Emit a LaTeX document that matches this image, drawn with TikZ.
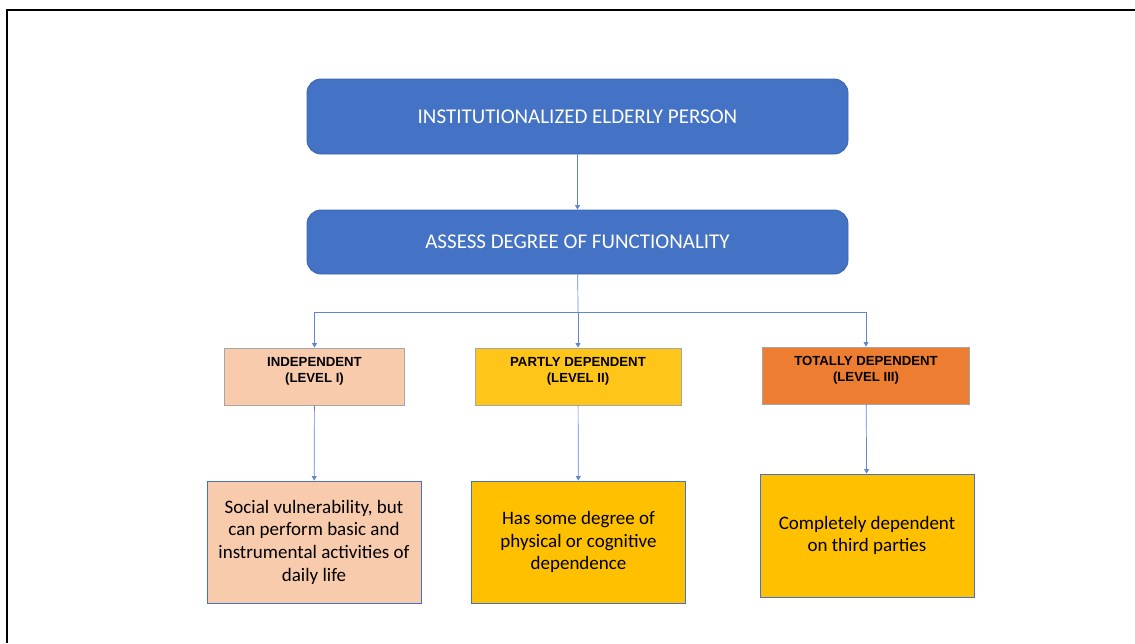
\documentclass[tikz,border=0pt]{standalone}
\usepackage{fontspec}
\setmainfont{Carlito}
\newfontfamily\levelfont{Liberation Sans}
\usetikzlibrary{positioning,arrows.meta}

\definecolor{stepblue}{HTML}{4472C4}
\definecolor{stepblueline}{HTML}{3A64B0}
\definecolor{peach}{HTML}{F8CBAD}
\definecolor{gold}{HTML}{FFC619}
\definecolor{amber}{HTML}{FFC000}
\definecolor{orange}{HTML}{ED7D31}

\begin{document}
\begin{tikzpicture}[x=1pt, y=-1pt,
    headbox/.style={rectangle, rounded corners=14pt, draw=stepblueline, line width=0.9pt, fill=stepblue, text=white, minimum width=541pt, font=\fontsize{21}{25}\selectfont},
    levelbox/.style={rectangle, draw=gray!70, line width=0.9pt, minimum width=#1, minimum height=57pt},
    leveltext/.style={align=center, inner sep=0pt, font=\levelfont\bfseries\fontsize{13.2}{16.5}\selectfont},
    descbox/.style={rectangle, draw=stepblue, line width=0.9pt, minimum width=214pt, minimum height=122pt, align=center, font=\fontsize{19}{22.7}\selectfont},
    link/.style={draw=stepblue!85, line width=0.7pt, -{Triangle[width=5pt,length=4.5pt]}}]

    \useasboundingbox (0,0) rectangle (1135,643);
    \draw[line width=2pt] (7,643) -- (7,10) -- (1135,10);

    % top of the chart
    \node[headbox, minimum height=75pt, name=person] at (577.5,116.5) {INSTITUTIONALIZED ELDERLY PERSON};
    \node[headbox, minimum height=64pt, name=assess] at (577.5,242) {ASSESS DEGREE OF FUNCTIONALITY};

    % the three levels
    \node[levelbox=180pt, fill=peach, name=lvl1] at (314.5,376.5) {};
    \node[leveltext, below=9.5pt of lvl1.north] {INDEPENDENT\\(LEVEL I)};

    \node[levelbox=206pt, fill=gold, name=lvl2] at (578,376.5) {};
    \node[leveltext, below=9.5pt of lvl2.north] {PARTLY DEPENDENT\\(LEVEL II)};

    \node[levelbox=207pt, fill=orange, name=lvl3] at (866,375.5) {};
    \node[leveltext, below=9.5pt of lvl3.north] {TOTALLY DEPENDENT\\(LEVEL III)};

    % what each level means
    \node[descbox, fill=peach, name=desc1] at (314,542) {Social vulnerability, but\\can perform basic and\\instrumental activities of\\daily life};
    \node[descbox, fill=amber, name=desc2] at (578.5,542) {Has some degree of\\physical or cognitive\\dependence};
    \node[descbox, fill=amber, minimum height=123pt, name=desc3] at (867,535.5) {Completely dependent\\on third parties};

    \coordinate (fork) at (578,312);

    \draw[link] (person) -- (assess);
    \draw[draw=stepblue!85, line width=0.7pt] (assess) -- (fork);
    \draw[link] (fork) -| (lvl1.north);
    \draw[link] (fork) -- (lvl2.north);
    \draw[link] (fork) -| (lvl3.north);

    \draw[link] (lvl1) -- (desc1);
    \draw[link] (lvl2) -- (desc2);
    \draw[link] (lvl3) -- (desc3);
\end{tikzpicture}
\end{document}
